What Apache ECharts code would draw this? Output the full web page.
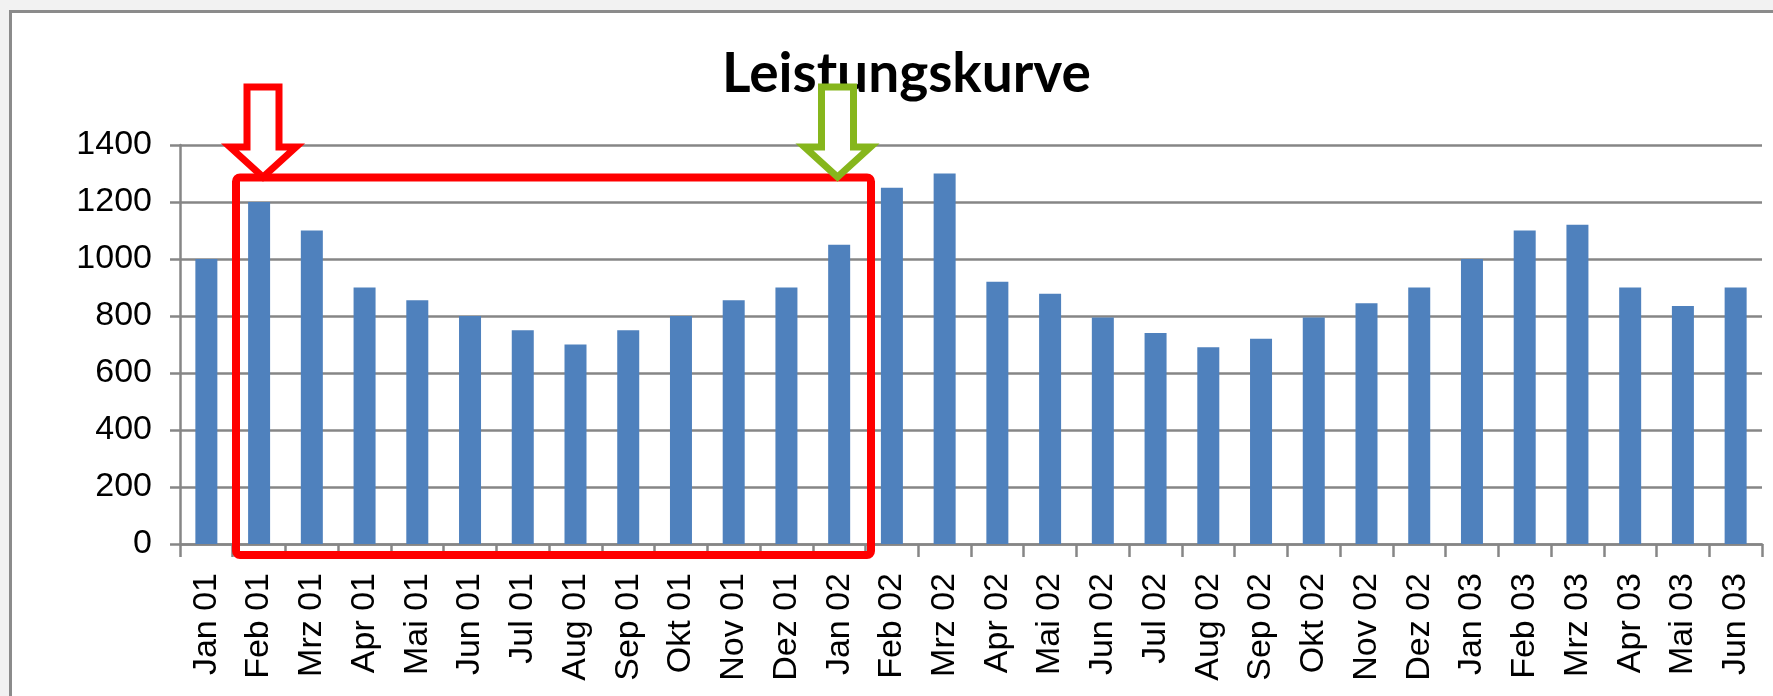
<!DOCTYPE html>
<html>
<head>
<meta charset="utf-8">
<title>Leistungskurve</title>
<script src="https://cdn.jsdelivr.net/npm/echarts@6/dist/echarts.min.js"></script>
<style>
  html, body { margin: 0; padding: 0; background: #f2f2f2; }
  #frame {
    position: absolute; left: 9px; top: 10px; width: 1780px; height: 700px;
    background: #fff; border-left: 3px solid #8b8b8b; border-top: 3px solid #8b8b8b;
  }
  #chart { position: absolute; left: 0; top: 0; width: 1773px; height: 696px; }
</style>
</head>
<body>
<div id="frame"></div>
<div id="chart"></div>
<script>
// Monate
var months = [
  'Jan 01', 'Feb 01', 'Mrz 01', 'Apr 01', 'Mai 01', 'Jun 01',
  'Jul 01', 'Aug 01', 'Sep 01', 'Okt 01', 'Nov 01', 'Dez 01',
  'Jan 02', 'Feb 02', 'Mrz 02', 'Apr 02', 'Mai 02', 'Jun 02',
  'Jul 02', 'Aug 02', 'Sep 02', 'Okt 02', 'Nov 02', 'Dez 02',
  'Jan 03', 'Feb 03', 'Mrz 03', 'Apr 03', 'Mai 03', 'Jun 03'
];
// Leistung je Monat
var leistung = [
  1000, 1200, 1100, 900, 855, 800, 750, 700, 750, 800, 855, 900,
  1050, 1250, 1300, 920, 878, 795, 740, 690, 720, 795, 845, 900,
  1000, 1100, 1120, 900, 835, 900
];
// y-Achse
var yMin = 0, yMax = 1400, yStep = 200;

var axisGrey = '#868686';
var labelFont = 'Liberation Sans, Arial, sans-serif';

// Pfeil (hohl, nach unten) als Polygon
function arrow(cx, color) {
  return {
    type: 'polygon',
    z: 100,
    shape: {
      points: [
        [cx - 16, 87], [cx + 16, 87], [cx + 16, 147], [cx + 33, 147],
        [cx, 177], [cx - 33, 147], [cx - 16, 147]
      ]
    },
    style: { fill: '#fff', stroke: color, lineWidth: 7, lineJoin: 'miter' }
  };
}

window.chart = echarts.init(document.getElementById('chart'));
chart.setOption({
  animation: false,
  title: {
    text: 'Leistungskurve',
    left: 717,
    top: 42,
    textStyle: {
      fontFamily: 'Lato, Open Sans, sans-serif',
      fontWeight: 'bold',
      fontSize: 55,
      color: '#000'
    }
  },
  grid: {
    left: 180,
    right: 11,
    top: 145,
    bottom: 152,
    containLabel: false
  },
  xAxis: {
    type: 'category',
    data: months,
    boundaryGap: true,
    axisLine: { lineStyle: { color: axisGrey, width: 2.5 } },
    axisTick: { show: true, length: 13, interval: 0, lineStyle: { color: axisGrey, width: 2.5 } },
    axisLabel: {
      interval: 0,
      rotate: 90,
      margin: 29,
      color: '#000',
      fontSize: 34,
      fontFamily: labelFont
    },
    splitLine: { show: false }
  },
  yAxis: {
    type: 'value',
    min: yMin,
    max: yMax,
    interval: yStep,
    axisLine: { show: true, lineStyle: { color: axisGrey, width: 2.5 } },
    axisTick: { show: true, length: 10, lineStyle: { color: axisGrey, width: 2.5 } },
    axisLabel: {
      margin: 28,
      color: '#000',
      fontSize: 34,
      fontFamily: labelFont,
      formatter: function (v) { return String(v); }
    },
    splitLine: { lineStyle: { color: axisGrey, width: 2.5 } }
  },
  series: [{
    name: 'Leistung',
    type: 'bar',
    data: leistung,
    barWidth: 22,
    itemStyle: { color: '#4f81bd' }
  }],
  graphic: [
    // roter Rahmen
    {
      type: 'rect',
      z: 90,
      shape: { x: 236, y: 177.5, width: 635, height: 377.5, r: 4 },
      style: { fill: 'none', stroke: '#ff0000', lineWidth: 8 }
    },
    arrow(263, '#ff0000'),
    arrow(837.5, '#86b61c')
  ]
});
</script>
</body>
</html>
